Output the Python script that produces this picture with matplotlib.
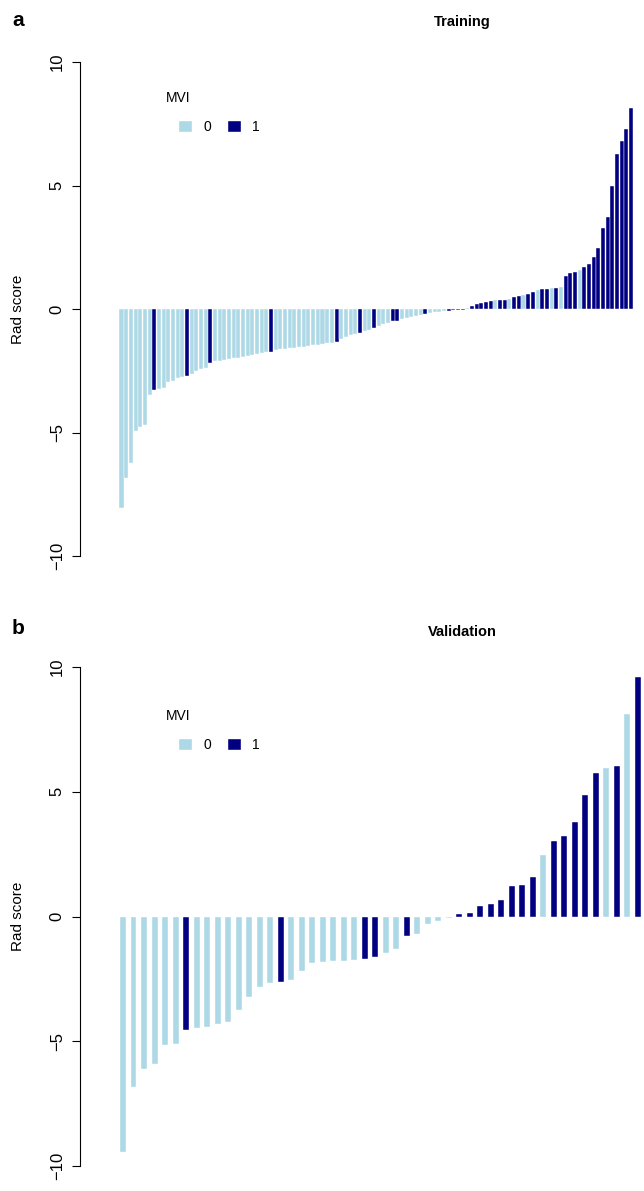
import numpy as np
import matplotlib.pyplot as plt
from matplotlib.patches import Patch

plt.rcParams['font.family'] = ['Liberation Sans', 'DejaVu Sans']

LIGHT = 'lightblue'
DARK = 'navy'

# Training cohort: sorted rad scores and MVI status (0/1)
train_scores = [
    -8.06, -6.83, -6.25, -4.93, -4.77, -4.68, -3.49, -3.29, -3.24, -3.21,
    -2.97, -2.92, -2.81, -2.76, -2.72, -2.62, -2.49, -2.43, -2.39, -2.17,
    -2.12, -2.09, -2.06, -2.03, -2.00, -1.97, -1.94, -1.91, -1.88, -1.84,
    -1.80, -1.76, -1.73, -1.66, -1.62, -1.60, -1.58, -1.56, -1.54, -1.52,
    -1.50, -1.47, -1.44, -1.41, -1.38, -1.36, -1.32, -1.23, -1.12, -1.04,
    -1.00, -0.98, -0.91, -0.87, -0.78, -0.70, -0.62, -0.55, -0.50, -0.47,
    -0.42, -0.38, -0.33, -0.28, -0.24, -0.21, -0.17, -0.14, -0.11, -0.08,
    -0.07, -0.06, -0.05, -0.04, 0.03, 0.12, 0.19, 0.23, 0.27, 0.34,
    0.36, 0.37, 0.38, 0.40, 0.50, 0.54, 0.55, 0.59, 0.70, 0.77,
    0.80, 0.82, 0.84, 0.85, 0.90, 1.35, 1.47, 1.51, 1.58, 1.71,
    1.82, 2.12, 2.46, 3.29, 3.74, 4.99, 6.29, 6.79, 7.27, 8.12,
]
train_mvi = [
    0, 0, 0, 0, 0, 0, 0, 1, 0, 0,
    0, 0, 0, 0, 1, 0, 0, 0, 0, 1,
    0, 0, 0, 0, 0, 0, 0, 0, 0, 0,
    0, 0, 1, 0, 0, 0, 0, 0, 0, 0,
    0, 0, 0, 0, 0, 0, 1, 0, 0, 0,
    0, 1, 0, 0, 1, 0, 0, 0, 1, 1,
    0, 0, 0, 0, 0, 1, 0, 0, 0, 0,
    1, 1, 1, 1, 0, 1, 1, 1, 1, 1,
    0, 1, 1, 0, 1, 1, 0, 1, 1, 0,
    1, 1, 0, 1, 0, 1, 1, 1, 0, 1,
    1, 1, 1, 1, 1, 1, 1, 1, 1, 1,
]

# Validation cohort
val_scores = [
    -9.45, -6.85, -6.13, -5.90, -5.17, -5.13, -4.54, -4.47, -4.42, -4.30,
    -4.24, -3.73, -3.23, -2.81, -2.65, -2.62, -2.53, -2.20, -1.86, -1.82,
    -1.79, -1.78, -1.74, -1.69, -1.63, -1.45, -1.32, -0.80, -0.70, -0.30,
    -0.20, -0.08, 0.10, 0.15, 0.41, 0.52, 0.66, 1.22, 1.26, 1.57,
    2.46, 3.01, 3.24, 3.79, 4.85, 5.77, 5.94, 6.04, 8.11, 9.58,
]
val_mvi = [
    0, 0, 0, 0, 0, 0, 1, 0, 0, 0,
    0, 0, 0, 0, 0, 1, 0, 0, 0, 0,
    0, 0, 0, 1, 1, 0, 0, 1, 0, 0,
    0, 0, 1, 1, 1, 1, 1, 1, 1, 1,
    0, 1, 1, 1, 1, 1, 0, 1, 0, 1,
]

yticks = [-10, -5, 0, 5, 10]

W, H = 644, 1191
fig = plt.figure(figsize=(W / 100, H / 100), dpi=100)


def waterfall(top, bottom, x_first, x_last, scores, mvi, width,
              title, title_y, letter, letter_y, legend_y):
    '''Draw one waterfall panel; pixel coordinates give the layout.'''
    left, right = 80, 644
    ax = fig.add_axes([left / W, 1 - bottom / H, (right - left) / W, (bottom - top) / H])
    n = len(scores)
    pitch = (x_last - x_first) / (n - 1)
    colors = [DARK if m else LIGHT for m in mvi]
    ax.bar(np.arange(n), scores, width=width, color=colors,
           edgecolor='white', linewidth=0.3)
    ax.set_xlim((left - x_first) / pitch, (right - x_first) / pitch)
    ax.set_ylim(-10, 10)
    for s in ['top', 'right', 'bottom']:
        ax.spines[s].set_visible(False)
    ax.spines['left'].set_linewidth(0.8)
    ax.set_xticks([])
    ax.set_yticks(yticks)
    ax.set_yticklabels([str(t).replace('-', '\u2212') for t in yticks],
                       rotation=90, va='center', fontsize=12)
    ax.tick_params(axis='y', length=6, width=0.8, pad=5)
    ax.set_ylabel('Rad score', fontsize=11)
    ax.yaxis.set_label_coords(-55 / (right - left), 0.5)
    fig.text(462 / W, 1 - title_y / H, title, ha='center', va='center',
             fontsize=10.5, fontweight='bold')
    fig.text(12 / W, 1 - letter_y / H, letter, ha='left', va='center',
             fontsize=15, fontweight='bold')
    # legend: title text plus a row of two keys
    fig.text(166 / W, 1 - (legend_y - 29) / H, 'MVI', ha='left', va='center',
             fontsize=10)
    handles = [Patch(facecolor=LIGHT, edgecolor='white'),
               Patch(facecolor=DARK, edgecolor='white')]
    ax.legend(handles, ['0', '1'], ncol=2, frameon=False,
              loc='center left',
              bbox_to_anchor=((178 - left) / (right - left), 1 - (legend_y - top) / (bottom - top)),
              fontsize=10, handlelength=1.0, handleheight=1.0,
              handletextpad=0.8, columnspacing=1.2,
              borderpad=0, borderaxespad=0)
    return ax


waterfall(62, 556, 121.5, 631.0, train_scores, train_mvi, 0.86,
          'Training', 22, 'a', 20, 127)
waterfall(667, 1166, 123.0, 637.7, val_scores, val_mvi, 0.57,
          'Validation', 632, 'b', 628, 745)

fig.savefig('out.png', dpi=100)
